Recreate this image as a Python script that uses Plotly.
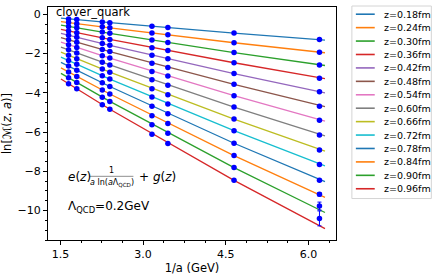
import plotly.graph_objects as go

# ---------------- data ----------------
z_labels = ["z=0.18fm", "z=0.24fm", "z=0.30fm", "z=0.36fm", "z=0.42fm", "z=0.48fm",
            "z=0.54fm", "z=0.60fm", "z=0.66fm", "z=0.72fm", "z=0.78fm", "z=0.84fm",
            "z=0.90fm", "z=0.96fm"]

line_colors = ["#1f77b4", "#ff7f0e", "#2ca02c", "#d62728", "#9467bd", "#8c564b",
               "#e377c2", "#7f7f7f", "#bcbd22", "#17becf", "#1f77b4", "#ff7f0e",
               "#2ca02c", "#d62728"]

# fit-line vertices (1/a in GeV)
line_x = [1.51, 2.397, 4.65, 6.30]
line_y = [
    [-0.20, -0.43, -0.96, -1.32],
    [-0.37, -0.69, -1.45, -1.96],
    [-0.55, -0.97, -1.95, -2.61],
    [-0.77, -1.28, -2.47, -3.28],
    [-0.97, -1.58, -3.02, -4.00],
    [-1.19, -1.90, -3.57, -4.71],
    [-1.42, -2.23, -4.15, -5.45],
    [-1.67, -2.58, -4.73, -6.19],
    [-1.93, -2.95, -5.34, -6.97],
    [-2.18, -3.30, -5.93, -7.72],
    [-2.45, -3.68, -6.57, -8.53],
    [-2.73, -4.06, -7.20, -9.33],
    [-3.01, -4.44, -7.81, -10.10],
    [-3.30, -4.84, -8.46, -10.92],
]

# data points
x_points = [1.648, 1.797, 2.26, 2.397, 3.161, 3.45, 4.65, 6.20]
y_points = [
    [-0.24, -0.27, -0.39, -0.43, -0.61, -0.68, -0.96, -1.29],
    [-0.42, -0.48, -0.64, -0.69, -0.96, -1.05, -1.45, -1.93],
    [-0.62, -0.69, -0.90, -0.97, -1.31, -1.44, -1.95, -2.58],
    [-0.85, -0.94, -1.20, -1.28, -1.70, -1.85, -2.47, -3.26],
    [-1.07, -1.17, -1.49, -1.58, -2.09, -2.27, -3.02, -3.95],
    [-1.30, -1.42, -1.79, -1.90, -2.49, -2.71, -3.57, -4.68],
    [-1.55, -1.69, -2.11, -2.23, -2.91, -3.15, -4.15, -5.40],
    [-1.81, -1.97, -2.45, -2.58, -3.34, -3.62, -4.73, -6.15],
    [-2.09, -2.26, -2.79, -2.95, -3.79, -4.10, -5.34, -6.91],
    [-2.36, -2.55, -3.13, -3.30, -4.22, -4.57, -5.93, -7.66],
    [-2.64, -2.85, -3.49, -3.68, -4.69, -5.07, -6.57, -8.46],
    [-2.94, -3.17, -3.86, -4.06, -5.17, -5.57, -7.20, -9.17],
    [-3.24, -3.48, -4.23, -4.44, -5.63, -6.06, -7.81, -9.77],
    [-3.54, -3.80, -4.61, -4.84, -6.11, -6.58, -8.46, -10.40],
]
y_errors = [
    [0.01, 0.01, 0.01, 0.01, 0.01, 0.01, 0.02, 0.02],
    [0.01, 0.01, 0.01, 0.01, 0.01, 0.01, 0.02, 0.02],
    [0.01, 0.01, 0.01, 0.01, 0.01, 0.01, 0.02, 0.02],
    [0.01, 0.01, 0.01, 0.01, 0.01, 0.01, 0.02, 0.03],
    [0.01, 0.01, 0.01, 0.01, 0.01, 0.01, 0.02, 0.03],
    [0.01, 0.01, 0.01, 0.01, 0.01, 0.01, 0.02, 0.03],
    [0.01, 0.01, 0.01, 0.01, 0.01, 0.01, 0.02, 0.04],
    [0.01, 0.01, 0.01, 0.01, 0.01, 0.01, 0.02, 0.04],
    [0.01, 0.01, 0.01, 0.01, 0.01, 0.01, 0.02, 0.05],
    [0.01, 0.01, 0.01, 0.01, 0.01, 0.01, 0.02, 0.05],
    [0.01, 0.01, 0.01, 0.01, 0.01, 0.01, 0.02, 0.06],
    [0.01, 0.01, 0.01, 0.01, 0.01, 0.01, 0.02, 0.09],
    [0.01, 0.01, 0.01, 0.01, 0.01, 0.01, 0.02, 0.20],
    [0.01, 0.01, 0.01, 0.01, 0.01, 0.01, 0.02, 0.38],
]

x_ticks = [1.5, 3.0, 4.5, 6.0]
x_ticktext = ["1.5", "3.0", "4.5", "6.0"]
y_ticks = [0, -2, -4, -6, -8, -10]

# ---------------- figure ----------------
W, H = 436, 276
PL, PR, PT, PB = 46, 336, 6, 242
FONT = "DejaVu Sans"


def px(x):
    return (x - PL) / (PR - PL)


def py(y):
    return (PB - y) / (PB - PT)


fig = go.Figure()
for i in range(len(z_labels)):
    fig.add_trace(go.Scatter(x=line_x, y=line_y[i], mode="lines",
                             line=dict(color=line_colors[i], width=1.3),
                             name=z_labels[i], showlegend=False, hoverinfo="skip"))
for i in range(len(z_labels)):
    fig.add_trace(go.Scatter(x=x_points, y=y_points[i], mode="markers",
                             marker=dict(color="#0000ff", size=5.5),
                             error_y=dict(type="data", array=y_errors[i], color="#0000ff",
                                          thickness=1, width=2),
                             showlegend=False))

shapes = []
annotations = []

# custom legend
shapes.append(dict(type="rect", xref="paper", yref="paper",
                   x0=px(352), x1=px(432), y0=py(200), y1=py(5),
                   line=dict(color="#d4d4d4", width=1), fillcolor="white", layer="above"))
for i, lab in enumerate(z_labels):
    yy = 13.3 + 13.6 * i
    shapes.append(dict(type="line", xref="paper", yref="paper",
                       x0=px(356), x1=px(375), y0=py(yy), y1=py(yy),
                       line=dict(color=line_colors[i], width=1.6), layer="above"))
    annotations.append(dict(text=lab, xref="paper", yref="paper", x=px(382), y=py(yy),
                            xanchor="left", yanchor="middle", showarrow=False,
                            font=dict(size=9.5, color="black", family=FONT)))

# in-plot texts
annotations.append(dict(text="clover_quark", xref="paper", yref="paper", x=px(52), y=py(11),
                        xanchor="left", yanchor="middle", showarrow=False,
                        font=dict(size=11.5, color="black", family=FONT)))
annotations.append(dict(text="<i>e</i>(<i>z</i>)", xref="paper", yref="paper", x=px(64), y=py(178),
                        xanchor="left", yanchor="middle", showarrow=False,
                        font=dict(size=12, color="black", family=FONT)))
annotations.append(dict(text="1", xref="paper", yref="paper", x=px(110), y=py(172),
                        xanchor="center", yanchor="middle", showarrow=False,
                        font=dict(size=8, color="black", family=FONT)))
annotations.append(dict(text="<i>a</i> ln(<i>a</i>Λ<sub>QCD</sub>)", xref="paper", yref="paper",
                        x=px(110), y=py(184),
                        xanchor="center", yanchor="middle", showarrow=False,
                        font=dict(size=8, color="black", family=FONT)))
shapes.append(dict(type="line", xref="paper", yref="paper",
                   x0=px(88), x1=px(132), y0=py(177.5), y1=py(177.5),
                   line=dict(color="#444", width=0.6)))
annotations.append(dict(text="+ <i>g</i>(<i>z</i>)", xref="paper", yref="paper", x=px(136), y=py(178),
                        xanchor="left", yanchor="middle", showarrow=False,
                        font=dict(size=12, color="black", family=FONT)))
annotations.append(dict(text="Λ<sub>QCD</sub>=0.2GeV", xref="paper", yref="paper", x=px(64), y=py(209),
                        xanchor="left", yanchor="middle", showarrow=False,
                        font=dict(size=12, color="black", family=FONT)))

axis_common = dict(showline=True, mirror=True, linecolor="black", linewidth=1,
                   showgrid=False, zeroline=False, ticks="outside", ticklen=4,
                   tickcolor="black", tickwidth=1,
                   tickfont=dict(size=11, color="black", family=FONT))

fig.update_layout(
    width=W, height=H, autosize=False,
    margin=dict(l=PL, r=W - PR, t=PT, b=H - PB),
    paper_bgcolor="white", plot_bgcolor="white",
    font=dict(family=FONT, color="black"),
    showlegend=False,
    shapes=shapes, annotations=annotations,
    xaxis=dict(range=[1.275, 6.5], tickvals=x_ticks, ticktext=x_ticktext,
               title=dict(text="1/a (GeV)", font=dict(size=11.5, family=FONT), standoff=1),
               minor=dict(ticks="outside", ticklen=2, tick0=1.5, dtick=0.375,
                          tickcolor="black", showgrid=False),
               **axis_common),
    yaxis=dict(range=[-11.5, 0.37], tickvals=y_ticks,
               title=dict(text="ln[ℳ(<i>z</i>, <i>a</i>)]", font=dict(size=11.5, family=FONT), standoff=4),
               minor=dict(ticks="outside", ticklen=2, tick0=0, dtick=0.5,
                          tickcolor="black", showgrid=False),
               **axis_common),
)

fig.write_html("out.html",
               config={"displayModeBar": False},
               post_script="document.body.style.margin='0';document.body.style.overflow='hidden';")
